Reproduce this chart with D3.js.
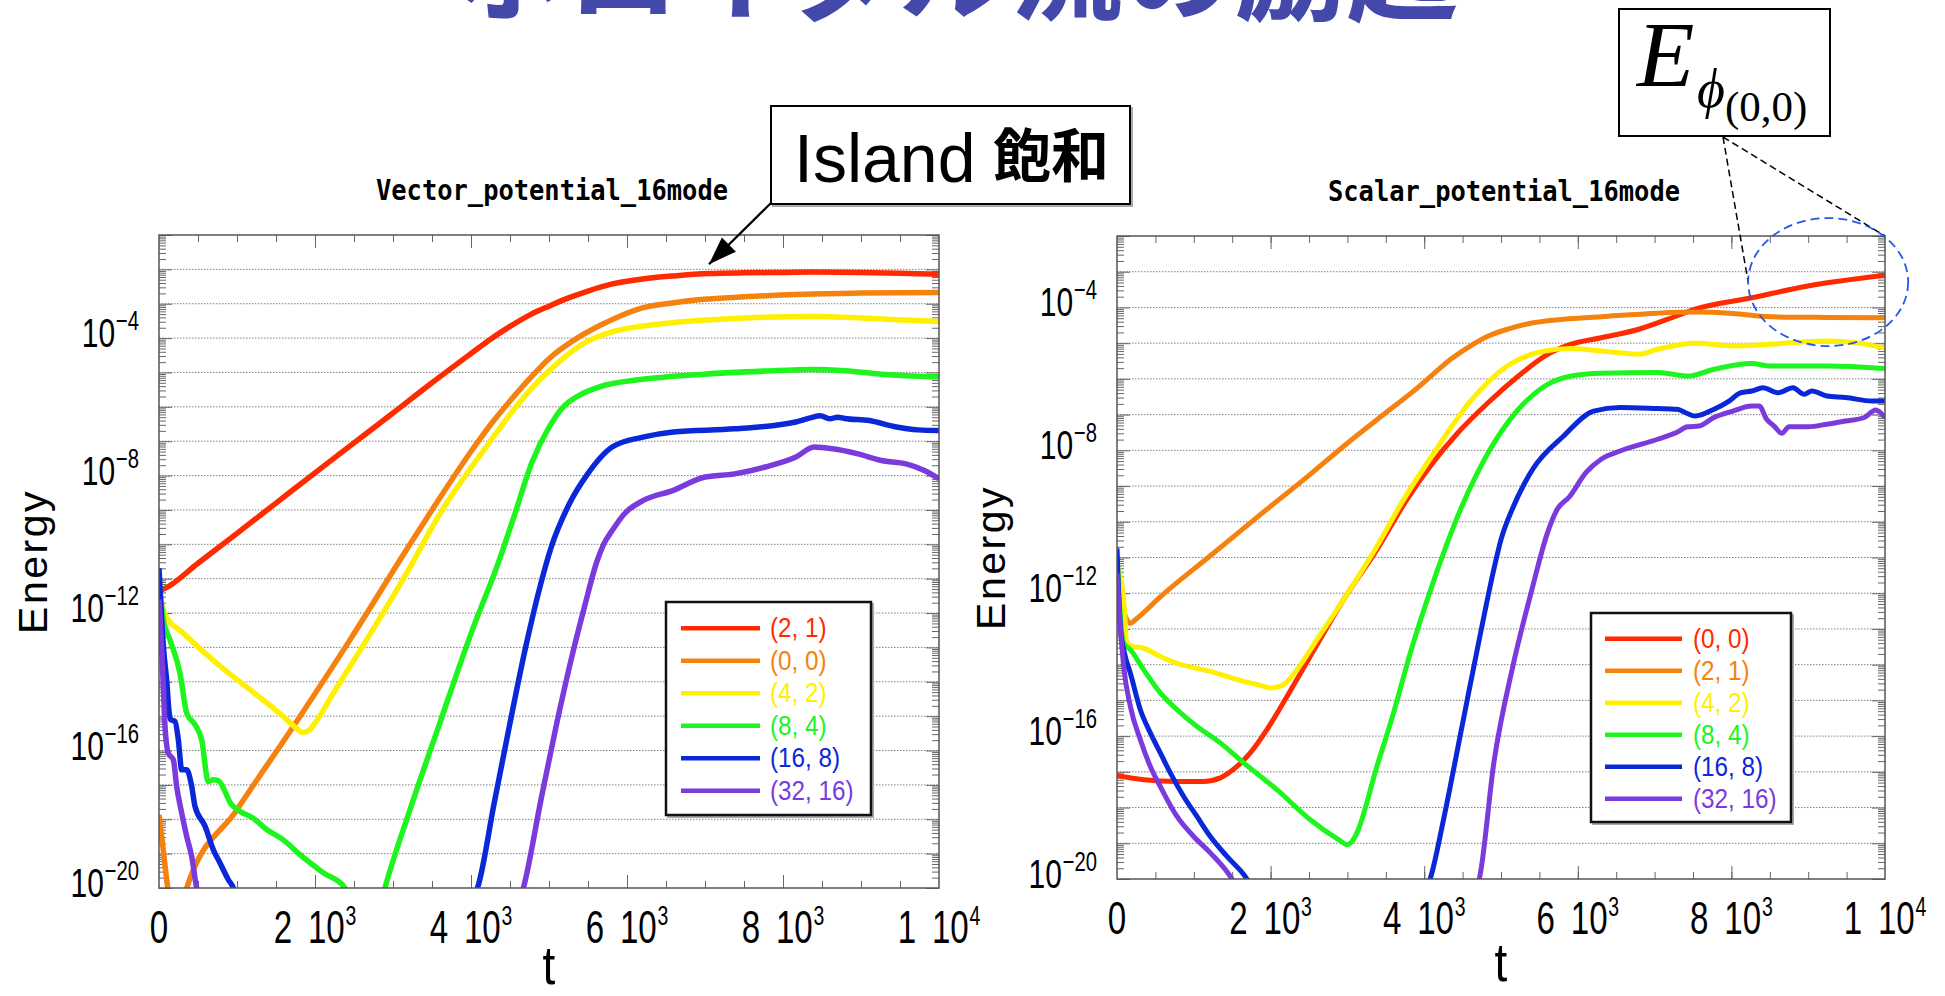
<!DOCTYPE html>
<html>
<head>
<meta charset="utf-8">
<script src="https://cdn.jsdelivr.net/npm/d3@7"></script>
<style>
  html, body { margin: 0; padding: 0; background: #fff; overflow: hidden; }
  svg { display: block; }
</style>
</head>
<body>
<svg id="fig" width="1945" height="996"></svg>
<script>
// ---------------------------------------------------------------
// Mode energies, each point is [t, log10(Energy)]
// ---------------------------------------------------------------

// Vector potential, 16 modes
const vecMode21 = [[0,-11.35],[60,-11.3],[500,-10.55],[1000,-9.68],[1500,-8.8],[2000,-7.92],[2500,-7.05],[3000,-6.18],[3500,-5.3],[4000,-4.45],[4250,-4.03],[4500,-3.66],[4750,-3.33],[5000,-3.07],[5250,-2.83],[5500,-2.63],[5800,-2.43],[6200,-2.28],[6600,-2.19],[7050,-2.12],[7500,-2.1],[8000,-2.09],[8400,-2.08],[9000,-2.09],[9500,-2.11],[10000,-2.14]];
const vecMode00 = [[0,-17.87],[40,-18.6],[80,-19.4],[125,-20.2],[200,-20.8],[300,-20.6],[355,-20.0],[1000,-17.72],[1722,-15.3],[2449,-12.78],[3197,-10.07],[3500,-9.0],[4000,-7.3],[4250,-6.52],[4500,-5.83],[4784,-5.1],[5000,-4.6],[5412,-3.93],[5800,-3.47],[6196,-3.12],[6600,-2.97],[6980,-2.87],[7500,-2.8],[8157,-2.73],[9000,-2.69],[10000,-2.67]];
const vecMode42 = [[0,-11.5],[40,-11.8],[77,-12.05],[312,-12.59],[739,-13.46],[1167,-14.23],[1594,-15.01],[1760,-15.35],[1840,-15.47],[1920,-15.42],[2000,-15.2],[2235,-14.33],[2662,-12.78],[3175,-10.84],[3608,-9.09],[4235,-7.04],[4500,-6.22],[4863,-5.25],[5100,-4.75],[5412,-4.2],[5804,-3.82],[6200,-3.65],[6588,-3.55],[7373,-3.43],[8392,-3.37],[9333,-3.45],[10000,-3.52]];
const vecMode84 = [[0,-11.0],[20,-11.5],[56,-12.2],[141,-12.78],[269,-13.75],[355,-14.91],[462,-15.25],[547,-15.69],[632,-16.9],[700,-16.85],[761,-16.88],[932,-17.58],[1038,-17.77],[1209,-17.97],[1380,-18.3],[1594,-18.6],[1808,-19.03],[2107,-19.56],[2385,-20.0],[2450,-20.4],[2850,-20.4],[2897,-20.0],[3218,-17.72],[3600,-15.2],[4000,-12.6],[4359,-10.48],[4550,-9.2],[4784,-7.6],[5000,-6.6],[5176,-6.02],[5400,-5.65],[5647,-5.42],[6196,-5.2],[6980,-5.05],[7765,-4.96],[8392,-4.91],[8800,-4.95],[9255,-5.05],[10000,-5.13]];
const vecMode168 = [[0,-10.7],[20,-11.6],[56,-12.97],[100,-14.0],[130,-14.9],[150,-15.1],[205,-15.15],[248,-15.69],[291,-16.56],[355,-16.56],[419,-17.04],[462,-17.63],[590,-18.2],[697,-18.89],[782,-19.27],[889,-19.76],[953,-20.0],[1000,-20.4],[4000,-20.4],[4083,-20.0],[4300,-17.5],[4500,-15.2],[4700,-13.0],[4900,-11.1],[5026,-10.1],[5261,-8.82],[5496,-7.95],[5810,-7.17],[6203,-6.88],[6595,-6.73],[7380,-6.64],[8165,-6.44],[8350,-6.32],[8478,-6.26],[8600,-6.35],[8700,-6.3],[8792,-6.34],[9107,-6.4],[9421,-6.57],[9735,-6.67],[10000,-6.69]];
const vecMode3216 = [[0,-11.6],[13,-12.1],[56,-14.14],[77,-15.3],[120,-16.08],[184,-16.27],[226,-17.04],[291,-17.82],[355,-18.5],[419,-19.08],[483,-20.0],[530,-20.4],[4620,-20.4],[4672,-20.0],[4900,-17.4],[5100,-15.2],[5300,-13.2],[5457,-11.8],[5614,-10.5],[5700,-10.0],[5810,-9.6],[5967,-9.11],[6203,-8.73],[6595,-8.43],[6987,-8.05],[7380,-7.95],[7773,-7.75],[8165,-7.46],[8400,-7.17],[8636,-7.22],[8949,-7.36],[9264,-7.56],[9577,-7.66],[9813,-7.85],[10000,-8.09]];

// Scalar potential, 16 modes
const scaMode00 = [[0,-17.11],[347,-17.22],[781,-17.27],[1128,-17.27],[1345,-17.17],[1562,-16.85],[1735,-16.47],[1952,-15.82],[2213,-14.89],[2516,-13.77],[2950,-12.18],[3384,-10.78],[3774,-9.38],[4100,-8.38],[4442,-7.5],[4835,-6.66],[5227,-5.92],[5570,-5.36],[5913,-5.03],[6304,-4.85],[6795,-4.61],[7284,-4.24],[7527,-4.05],[8264,-3.73],[8997,-3.4],[10000,-3.1]];
const scaMode21 = [[0,-11.4],[60,-12.2],[130,-12.75],[174,-12.84],[250,-12.72],[564,-12.1],[1215,-10.95],[1866,-9.8],[2500,-8.7],[3000,-7.8],[3500,-6.95],[3856,-6.35],[4100,-5.9],[4345,-5.45],[4600,-5.08],[4835,-4.8],[5100,-4.6],[5325,-4.47],[5815,-4.33],[6304,-4.26],[7039,-4.16],[7527,-4.13],[8018,-4.17],[8508,-4.26],[9242,-4.28],[10000,-4.29]];
const scaMode42 = [[0,-11.2],[87,-12.18],[130,-13.4],[195,-13.49],[347,-13.54],[564,-13.77],[781,-13.96],[1215,-14.19],[1649,-14.47],[1900,-14.6],[2000,-14.65],[2100,-14.62],[2169,-14.56],[2343,-14.14],[2603,-13.3],[2950,-12.18],[3384,-10.69],[3731,-9.38],[4100,-8.16],[4589,-6.66],[5080,-5.64],[5570,-5.22],[5913,-5.15],[6304,-5.22],[6795,-5.31],[7039,-5.17],[7527,-5.0],[8018,-5.08],[8508,-5.03],[9242,-4.94],[9634,-4.99],[10000,-5.14]];
const scaMode84 = [[0,-10.9],[20,-11.8],[87,-13.4],[174,-13.58],[347,-14.14],[564,-14.79],[781,-15.26],[1041,-15.73],[1345,-16.19],[1649,-16.75],[2082,-17.5],[2516,-18.34],[2900,-18.92],[2993,-19.04],[3060,-18.95],[3124,-18.71],[3384,-16.85],[3601,-15.35],[3818,-13.68],[4100,-11.8],[4492,-9.56],[4835,-8.06],[5227,-6.85],[5570,-6.2],[5913,-5.92],[6304,-5.84],[7039,-5.82],[7431,-5.92],[7773,-5.73],[8264,-5.57],[8508,-5.64],[9242,-5.64],[10000,-5.71]];
const scaMode168 = [[0,-10.74],[43,-12.93],[108,-13.77],[174,-14.24],[304,-15.26],[434,-15.91],[564,-16.47],[694,-17.03],[868,-17.69],[1041,-18.25],[1215,-18.81],[1432,-19.37],[1692,-20.0],[1800,-20.4],[4000,-20.4],[4077,-20.0],[4256,-18.29],[4501,-15.63],[4747,-12.97],[4910,-11.3],[5000,-10.5],[5156,-9.6],[5300,-8.95],[5422,-8.5],[5815,-7.6],[6206,-6.9],[6550,-6.8],[7039,-6.83],[7284,-6.85],[7528,-7.04],[7773,-6.85],[7970,-6.62],[8117,-6.39],[8264,-6.34],[8411,-6.25],[8606,-6.39],[8802,-6.25],[8948,-6.43],[9047,-6.34],[9242,-6.48],[9487,-6.52],[9831,-6.62],[10000,-6.62]];
const scaMode3216 = [[0,-11.44],[43,-12.93],[87,-14.05],[174,-15.17],[304,-16.1],[434,-16.85],[564,-17.41],[781,-18.25],[998,-18.81],[1215,-19.27],[1497,-20.0],[1600,-20.4],[4650,-20.4],[4717,-20.0],[4910,-16.7],[5156,-14.03],[5401,-11.91],[5605,-10.31],[5727,-9.67],[5891,-9.3],[6108,-8.62],[6304,-8.25],[6550,-8.02],[7039,-7.69],[7284,-7.5],[7431,-7.34],[7578,-7.32],[7773,-7.08],[8018,-6.9],[8264,-6.76],[8362,-6.76],[8459,-7.13],[8556,-7.32],[8655,-7.52],[8753,-7.34],[8998,-7.34],[9242,-7.27],[9487,-7.18],[9732,-7.08],[9879,-6.87],[10000,-7.08]];

// legend entries and tick labels
const vecLabels = ["(2, 1)", "(0, 0)", "(4, 2)", "(8, 4)", "(16, 8)", "(32, 16)"];
const scaLabels = ["(0, 0)", "(2, 1)", "(4, 2)", "(8, 4)", "(16, 8)", "(32, 16)"];
const xTickValues = [0, 2000, 4000, 6000, 8000, 10000];
const yTickExponents = [-4, -8, -12, -16, -20];

// ---------------------------------------------------------------
// styling / layout
// ---------------------------------------------------------------
const modeColors = ["#ff2a00", "#f5820f", "#fff000", "#1ef51e", "#0a28d8", "#7b3bdc"];
const sans = "'Liberation Sans', Arial, sans-serif";
const serif = "'Liberation Serif', 'Times New Roman', serif";
const cjk = "'Noto Sans CJK JP', 'Noto Sans CJK SC', sans-serif";

const panels = [
  { title: "Vector_potential_16mode", series: [vecMode21, vecMode00, vecMode42, vecMode84, vecMode168, vecMode3216],
    labels: vecLabels, left: 159, right: 939, top: 235, bottom: 888, topExp: -1, lw: 5.5,
    legend: { x: 666, y: 602, w: 205, h: 213, row0: 628.3, step: 32.5, l0: 681, l1: 760, tx: 770 } },
  { title: "Scalar_potential_16mode", series: [scaMode00, scaMode21, scaMode42, scaMode84, scaMode168, scaMode3216],
    labels: scaLabels, left: 1117, right: 1885, top: 236, bottom: 879, topExp: -2, lw: 5,
    legend: { x: 1591, y: 613, w: 200, h: 209, row0: 638.7, step: 32, l0: 1605, l1: 1682, tx: 1693 } }
];

const svg = d3.select("#fig");

// page heading (runs off the top edge)
svg.append("text")
  .attr("x", 455).attr("y", 12)
  .attr("font-family", cjk).attr("font-weight", 700).attr("font-size", 112)
  .attr("fill", "#4448aa")
  .text("ポロイダル流の励起");

const tidy = sel => {
  sel.select(".domain").remove();
  sel.selectAll(".tick line").attr("stroke", "#666").attr("stroke-width", 1);
  sel.selectAll(".tick text").remove();
};

panels.forEach((p, pi) => {
  const x = d3.scaleLinear().domain([0, 10000]).range([p.left, p.right]);
  const y = d3.scaleLog().domain([1e-20, Math.pow(10, p.topExp)]).range([p.bottom, p.top]);
  p.x = x; p.y = y;
  const g = svg.append("g");

  // decade grid
  const decades = d3.range(-19, p.topExp).map(e => Math.pow(10, e));
  g.append("g").selectAll("line").data(decades).join("line")
    .attr("x1", p.left).attr("x2", p.right)
    .attr("y1", d => y(d)).attr("y2", d => y(d))
    .attr("stroke", "#808080").attr("stroke-width", 1).attr("stroke-dasharray", "1.5,1.5");

  // inward ticks on all four sides
  const minors = [];
  for (let e = -20; e < p.topExp; e++) for (let m = 2; m <= 9; m++) minors.push(m * Math.pow(10, e));
  const majors = d3.range(-20, p.topExp + 1).map(e => Math.pow(10, e));
  const xMinor = d3.range(500, 10000, 500);
  const xMajor = [2000, 4000, 6000, 8000];

  g.append("g").attr("transform", `translate(${p.left},0)`).call(d3.axisLeft(y).tickValues(minors).tickSize(-7)).call(tidy);
  g.append("g").attr("transform", `translate(${p.left},0)`).call(d3.axisLeft(y).tickValues(majors).tickSize(-13)).call(tidy);
  g.append("g").attr("transform", `translate(${p.right},0)`).call(d3.axisRight(y).tickValues(minors).tickSize(-7)).call(tidy);
  g.append("g").attr("transform", `translate(${p.right},0)`).call(d3.axisRight(y).tickValues(majors).tickSize(-13)).call(tidy);
  g.append("g").attr("transform", `translate(0,${p.top})`).call(d3.axisTop(x).tickValues(xMinor).tickSize(-7)).call(tidy);
  g.append("g").attr("transform", `translate(0,${p.top})`).call(d3.axisTop(x).tickValues(xMajor).tickSize(-13)).call(tidy);
  g.append("g").attr("transform", `translate(0,${p.bottom})`).call(d3.axisBottom(x).tickValues(xMinor).tickSize(-7)).call(tidy);
  g.append("g").attr("transform", `translate(0,${p.bottom})`).call(d3.axisBottom(x).tickValues(xMajor).tickSize(-13)).call(tidy);

  // curves
  const clipId = "clip" + pi;
  svg.append("clipPath").attr("id", clipId).append("rect")
    .attr("x", p.left).attr("y", p.top).attr("width", p.right - p.left).attr("height", p.bottom - p.top);
  const line = d3.line().x(d => x(d[0])).y(d => y(Math.pow(10, d[1]))).curve(d3.curveMonotoneX);
  g.append("g").attr("clip-path", `url(#${clipId})`)
    .selectAll("path").data(p.series).join("path")
    .attr("d", line).attr("fill", "none")
    .attr("stroke", (d, i) => modeColors[i]).attr("stroke-width", p.lw)
    .attr("stroke-linejoin", "round").attr("stroke-linecap", "butt");

  // frame
  g.append("rect").attr("x", p.left).attr("y", p.top)
    .attr("width", p.right - p.left).attr("height", p.bottom - p.top)
    .attr("fill", "none").attr("stroke", "#555").attr("stroke-width", 1.5);

  // y tick labels: 10^n, condensed
  yTickExponents.forEach(e => {
    const t = g.append("g").attr("transform", `translate(${p.left - 20},${y(Math.pow(10, e)) + 9}) scale(0.75,1)`)
      .append("text").attr("text-anchor", "end").attr("font-family", sans).attr("font-size", 40).attr("fill", "#000");
    t.append("tspan").text("10");
    t.append("tspan").attr("dy", -17).attr("dx", 1).attr("font-size", 27).text("\u2212" + Math.abs(e));
  });

  // x tick labels: m 10^n, condensed
  xTickValues.forEach(v => {
    const t = g.append("g").attr("transform", `translate(${x(v)},${p.bottom + 55}) scale(0.72,1)`)
      .append("text").attr("text-anchor", "middle").attr("font-family", sans).attr("font-size", 46).attr("fill", "#000");
    if (v === 0) { t.text("0"); return; }
    const e = Math.floor(Math.log10(v)), m = Math.round(v / Math.pow(10, e));
    t.append("tspan").text(m);
    t.append("tspan").attr("dx", 22).text("10");
    t.append("tspan").attr("dy", -18).attr("dx", 1).attr("font-size", 27).text(e);
  });

  // axis titles
  const cx = (p.left + p.right) / 2, cy = (p.top + p.bottom) / 2;
  g.append("g").attr("transform", `translate(${cx},${Math.min(p.bottom + 102, 984)}) scale(0.85,1)`)
    .append("text").attr("text-anchor", "middle")
    .attr("font-family", sans).attr("font-size", 54).text("t");
  g.append("text").attr("transform", `translate(${p.left - 112},${cy}) rotate(-90)`)
    .attr("text-anchor", "middle").attr("font-family", sans).attr("font-size", 41)
    .attr("letter-spacing", 2.5).text("Energy");
  g.append("text").attr("x", cx + 3).attr("y", p.top - 35).attr("text-anchor", "middle")
    .attr("font-family", "'DejaVu Sans Mono', monospace").attr("font-weight", 700).attr("font-size", 29)
    .attr("textLength", 352).attr("lengthAdjust", "spacingAndGlyphs").text(p.title);

  // legend
  const L = p.legend;
  g.append("rect").attr("x", L.x + 2).attr("y", L.y + 2).attr("width", L.w).attr("height", L.h)
    .attr("fill", "none").attr("stroke", "#aaa").attr("stroke-width", 2);
  g.append("rect").attr("x", L.x).attr("y", L.y).attr("width", L.w).attr("height", L.h)
    .attr("fill", "#fff").attr("stroke", "#111").attr("stroke-width", 2.5);
  p.labels.forEach((lab, i) => {
    const ly = L.row0 + i * L.step;
    g.append("line").attr("x1", L.l0).attr("x2", L.l1).attr("y1", ly).attr("y2", ly)
      .attr("stroke", modeColors[i]).attr("stroke-width", 4.5);
    g.append("g").attr("transform", `translate(${L.tx},${ly + 9}) scale(0.9,1)`)
      .append("text").attr("font-family", sans).attr("font-size", 27).attr("fill", modeColors[i]).text(lab);
  });
});

// ---------------------------------------------------------------
// annotations
// ---------------------------------------------------------------
const vp = panels[0], sp = panels[1];

// "Island 飽和" callout pointing at the saturated (2,1) curve
svg.append("rect").attr("x", 773).attr("y", 108).attr("width", 359).attr("height", 98)
  .attr("fill", "none").attr("stroke", "#aaa").attr("stroke-width", 2);
svg.append("rect").attr("x", 771).attr("y", 106).attr("width", 359).attr("height", 98)
  .attr("fill", "#fff").attr("stroke", "#000").attr("stroke-width", 2);
svg.append("text").attr("x", 794).attr("y", 182).attr("font-family", sans).attr("font-size", 68).text("Island");
svg.append("text").attr("x", 993).attr("y", 177).attr("font-family", cjk).attr("font-weight", 700).attr("font-size", 58).text("飽和");

const tip = [vp.x(7051), vp.y(Math.pow(10, -1.85))];
const start = [771, 203];
svg.append("line").attr("x1", start[0]).attr("y1", start[1]).attr("x2", tip[0]).attr("y2", tip[1])
  .attr("stroke", "#000").attr("stroke-width", 2.2);
{
  const ang = Math.atan2(tip[1] - start[1], tip[0] - start[0]);
  const len = 28, half = 10;
  const bx = tip[0] - len * Math.cos(ang), by = tip[1] - len * Math.sin(ang);
  const nx = -Math.sin(ang), ny = Math.cos(ang);
  svg.append("path")
    .attr("d", `M${tip[0]},${tip[1]}L${bx + half * nx},${by + half * ny}L${bx - half * nx},${by - half * ny}Z`)
    .attr("fill", "#000");
}

// E_phi(0,0) callout with a dashed ellipse around the end of the (0,0) curve
const ell = { cx: sp.x(9260), cy: sp.y(Math.pow(10, -3.29)), rx: 80, ry: 64 };
svg.append("rect").attr("x", 1619).attr("y", 9).attr("width", 211).attr("height", 127)
  .attr("fill", "#fff").attr("stroke", "#000").attr("stroke-width", 2);
svg.append("text").attr("x", 1637).attr("y", 86).attr("font-family", serif).attr("font-style", "italic")
  .attr("font-size", 94).text("E");
svg.append("text").attr("x", 1697).attr("y", 107).attr("font-family", serif).attr("font-style", "italic")
  .attr("font-size", 54).text("\u03D5");
svg.append("text").attr("x", 1725).attr("y", 121).attr("font-family", serif)
  .attr("font-size", 43).text("(0,0)");

const anchor = [1723, 137];
[[ell.cx - ell.rx, ell.cy], [sp.x(10000), sp.top]].forEach(e => {
  svg.append("line").attr("x1", anchor[0]).attr("y1", anchor[1]).attr("x2", e[0]).attr("y2", e[1])
    .attr("stroke", "#000").attr("stroke-width", 1.5).attr("stroke-dasharray", "7,4");
});
svg.append("ellipse").attr("cx", ell.cx).attr("cy", ell.cy).attr("rx", ell.rx).attr("ry", ell.ry)
  .attr("fill", "none").attr("stroke", "#2458e8").attr("stroke-width", 1.8).attr("stroke-dasharray", "9,5");
</script>
</body>
</html>
